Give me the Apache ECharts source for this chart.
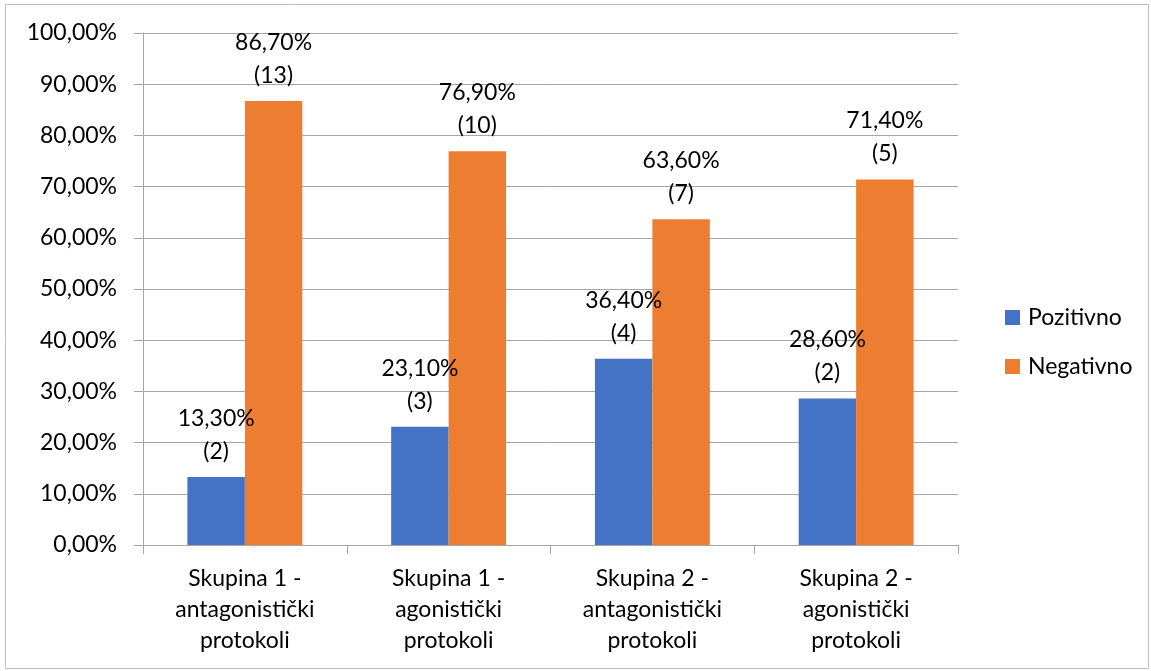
<!DOCTYPE html>
<html><head><meta charset="utf-8">
<script src="https://cdn.jsdelivr.net/npm/echarts@6/dist/echarts.min.js"></script>
<style>html,body{margin:0;padding:0;background:#fff}#c{width:1151px;height:671px}</style>
</head><body><div id="c"></div>
<script>
var categories = ['Skupina 1 -\nantagonistički\nprotokoli','Skupina 1 -\nagonistički\nprotokoli','Skupina 2 -\nantagonistički\nprotokoli','Skupina 2 -\nagonistički\nprotokoli'];
var pozitivno = [13.3, 23.1, 36.4, 28.6];
var pozitivnoN = [2, 3, 4, 2];
var negativno = [86.7, 76.9, 63.6, 71.4];
var negativnoN = [13, 10, 7, 5];
var seriesNames = ['Pozitivno', 'Negativno'];
var FONT = 'Lato, "Open Sans", sans-serif';
function fmtPct(v){ return v.toFixed(2).replace('.', ',') + '%'; }
function mkLabel(counts){
  return {show:true, position:'top', distance:9, color:'#000', fontSize:23, fontFamily:FONT, lineHeight:33,
    formatter:function(p){ return fmtPct(p.value) + '\n(' + counts[p.dataIndex] + ')'; }};
}
var chart = echarts.init(document.getElementById('c'));
chart.setOption({
  animation:false,
  graphic:[{type:'rect', shape:{x:5.5,y:4.5,width:1143,height:664}, style:{fill:'none', stroke:'#bfbfbf', lineWidth:1}, silent:true}],
  grid:{left:143, right:193, top:33, bottom:126, containLabel:false},
  legend:{orient:'vertical', left:1000, top:301, itemWidth:15, itemHeight:15, itemGap:26, icon:'rect',
    textStyle:{fontSize:23, fontFamily:FONT, color:'#000', lineHeight:23, padding:[0,0,0,3]}, data:seriesNames},
  xAxis:{type:'category', data:categories,
    axisLine:{lineStyle:{color:'#a6a6a6'}},
    axisTick:{show:true, length:9, lineStyle:{color:'#a6a6a6'}},
    axisLabel:{fontSize:23, fontFamily:FONT, color:'#000', lineHeight:31, margin:18}},
  yAxis:{type:'value', min:0, max:100, interval:10,
    axisLine:{show:true, lineStyle:{color:'#a6a6a6'}},
    axisTick:{show:true, length:9, lineStyle:{color:'#a6a6a6'}},
    splitLine:{lineStyle:{color:'#a6a6a6'}},
    axisLabel:{fontSize:23, fontFamily:FONT, color:'#000', margin:26, formatter:function(v){return fmtPct(v);}}},
  series:[
    {name:seriesNames[0], type:'bar', data:pozitivno, barWidth:'28.2%', barGap:'0%', itemStyle:{color:'#4472C4'}, label:mkLabel(pozitivnoN)},
    {name:seriesNames[1], type:'bar', data:negativno, barWidth:'28.2%', barGap:'0%', itemStyle:{color:'#ED7D31'}, label:mkLabel(negativnoN)}
  ]
});
</script></body></html>
